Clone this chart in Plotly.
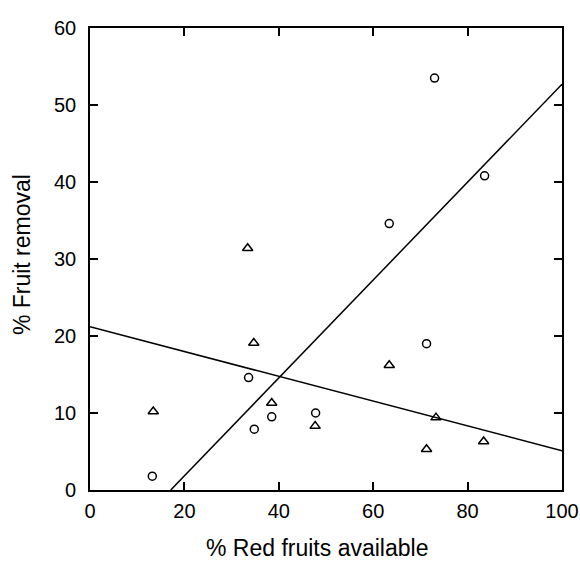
import plotly.graph_objects as go

# Circles series
circle_x = [13.2, 33.6, 34.8, 38.5, 47.8, 71.3, 63.4, 83.6, 73.0]
circle_y = [1.8, 14.6, 7.9, 9.5, 10.0, 19.0, 34.6, 40.8, 53.5]

# Triangles series
tri_x = [33.4, 34.7, 13.4, 38.5, 47.7, 63.4, 73.3, 71.3, 83.4]
tri_y = [31.4, 19.1, 10.2, 11.3, 8.3, 16.2, 9.4, 5.3, 6.3]

# Fitted lines
line1_x = [0, 100]
line1_y = [21.2, 5.1]
line2_x = [17.1, 100]
line2_y = [0, 52.7]

x_ticks = [0, 20, 40, 60, 80, 100]
y_ticks = [0, 10, 20, 30, 40, 50, 60]
x_title = "% Red fruits available"
y_title = "% Fruit removal"

fig = go.Figure()
fig.add_trace(go.Scatter(x=line1_x, y=line1_y, mode="lines",
                         line=dict(color="black", width=1.5), showlegend=False))
fig.add_trace(go.Scatter(x=line2_x, y=line2_y, mode="lines",
                         line=dict(color="black", width=1.5), showlegend=False))
fig.add_trace(go.Scatter(x=circle_x, y=circle_y, mode="markers",
                         marker=dict(symbol="circle-open", size=8, color="black",
                                     line=dict(width=1.5)), showlegend=False))
fig.add_trace(go.Scatter(x=tri_x, y=tri_y, mode="markers",
                         marker=dict(symbol="triangle-up-open", size=9, color="black",
                                     line=dict(width=1.5)), showlegend=False))

font = "Liberation Sans, Arial, Helvetica, sans-serif"
axis_common = dict(showline=True, linecolor="black", linewidth=1.6, mirror="ticks",
                   ticks="inside", ticklen=8, tickwidth=1.5, tickcolor="black",
                   showgrid=False, zeroline=False, automargin=False,
                   ticklabeloverflow="allow",
                   tickfont=dict(family=font, size=20, color="black"))

fig.update_layout(
    width=580, height=565,
    margin=dict(l=90, r=18, t=28, b=75),
    plot_bgcolor="white", paper_bgcolor="white",
    xaxis=dict(range=[0, 100], tickvals=x_ticks, ticklabelstandoff=2, **axis_common),
    yaxis=dict(range=[0, 60], tickvals=y_ticks, ticklabelstandoff=8, **axis_common),
    annotations=[
        dict(text=x_title, xref="paper", yref="paper", x=0.481, y=-0.1255,
             xanchor="center", yanchor="middle", showarrow=False,
             font=dict(family=font, size=23, color="black")),
        dict(text=y_title, xref="paper", yref="paper", x=-0.1435, y=0.509,
             xanchor="center", yanchor="middle", showarrow=False, textangle=-90,
             font=dict(family=font, size=23, color="black")),
    ],
)

fig.write_html("out.html", config={"displayModeBar": False},
               post_script="document.body.style.margin='0';document.body.style.overflow='hidden';")
